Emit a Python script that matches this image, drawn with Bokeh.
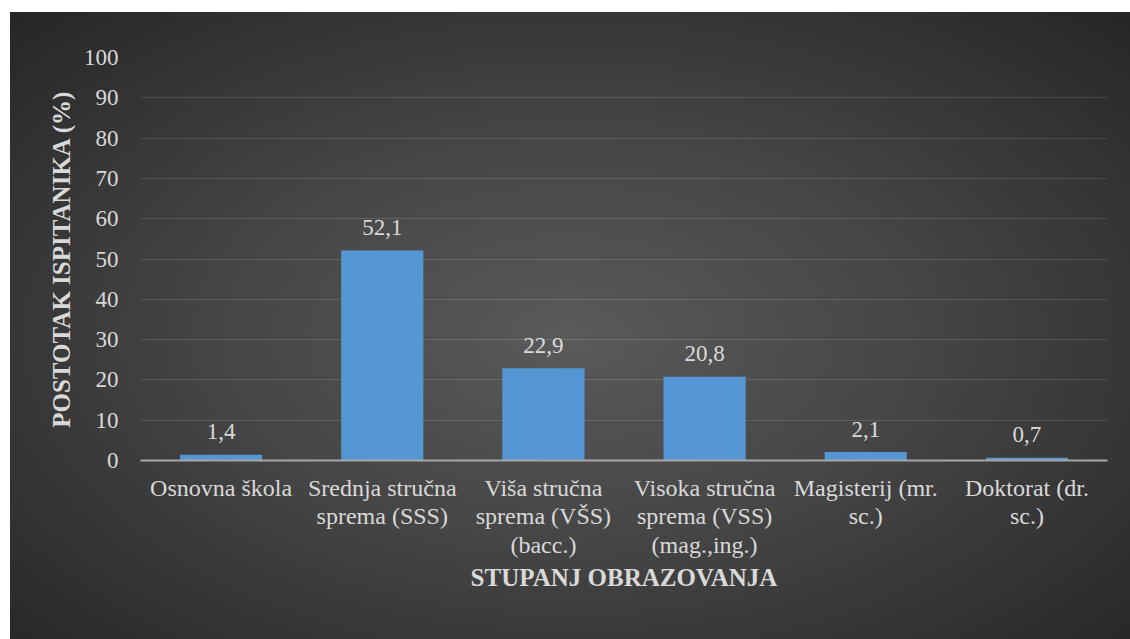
from bokeh.plotting import figure
from bokeh.models import ColumnDataSource, Range1d, FactorRange
from bokeh.core.properties import value
from bokeh.embed import file_html
from bokeh.resources import INLINE

categories = [
    "Osnovna škola",
    "Srednja stručna\nsprema (SSS)",
    "Viša stručna\nsprema (VŠS)\n(bacc.)",
    "Visoka stručna\nsprema (VSS)\n(mag.,ing.)",
    "Magisterij (mr.\nsc.)",
    "Doktorat (dr.\nsc.)",
]
percentages = [1.4, 52.1, 22.9, 20.8, 2.1, 0.7]
y_ticks = [0, 10, 20, 30, 40, 50, 60, 70, 80, 90, 100]

labels = [f"{v:.1f}".replace(".", ",") for v in percentages]
source = ColumnDataSource(data=dict(cat=categories, val=percentages, lab=labels))

FONT = "Liberation Serif"
TXT = "#d9d9d9"

p = figure(
    width=1130, height=639,
    x_range=FactorRange(*categories, range_padding=0),
    y_range=Range1d(0, 100),
    output_backend="svg", toolbar_location=None,
    min_border_left=140, min_border_right=23,
    min_border_top=57, min_border_bottom=179,
)
p.styles = {
    "background": "radial-gradient(ellipse farthest-corner at 50% 52%, #5a5a5a 0%, #454545 45%, #262626 100%) 10px 12px / 1120px 627px no-repeat, #ffffff"
}
p.border_fill_color = None
p.background_fill_color = None
p.outline_line_color = None

p.vbar(x="cat", top="val", width=0.51, source=source,
       fill_color="#5597d4", line_color=None)

p.text(x="cat", y="val", text="lab", source=source,
       text_align="center", text_baseline="alphabetic", y_offset=-23,
       text_font=value(FONT), text_font_size="23px", text_color=TXT)

p.xgrid.grid_line_color = None
p.ygrid.grid_line_color = "#ffffff"
p.ygrid.grid_line_alpha = 0.12
p.ygrid.ticker = y_ticks

p.yaxis.ticker = y_ticks
p.yaxis.axis_line_color = None
p.yaxis.major_tick_line_color = None
p.yaxis.minor_tick_line_color = None
p.yaxis.major_label_text_font = FONT
p.yaxis.major_label_text_font_size = "23px"
p.yaxis.major_label_text_color = TXT
p.yaxis.major_label_standoff = 16
p.yaxis.axis_label = "POSTOTAK ISPITANIKA (%)"
p.yaxis.axis_label_text_font = FONT
p.yaxis.axis_label_text_font_size = "25px"
p.yaxis.axis_label_text_font_style = "bold"
p.yaxis.axis_label_text_color = TXT
p.yaxis.axis_label_standoff = 6

p.xaxis.axis_line_color = "#a6a6a6"
p.xaxis.axis_line_width = 2
p.xaxis.major_tick_line_color = None
p.xaxis.minor_tick_line_color = None
p.xaxis.major_label_text_font = FONT
p.xaxis.major_label_text_font_size = "24px"
p.xaxis.major_label_text_color = TXT
p.xaxis.major_label_text_line_height = 1.1
p.xaxis.major_label_standoff = 8
p.xaxis.axis_label = "STUPANJ OBRAZOVANJA"
p.xaxis.axis_label_text_font = FONT
p.xaxis.axis_label_text_font_size = "25px"
p.xaxis.axis_label_text_font_style = "bold"
p.xaxis.axis_label_text_color = TXT
p.xaxis.axis_label_standoff = 3

open("out.html", "w").write(file_html(p, INLINE))
